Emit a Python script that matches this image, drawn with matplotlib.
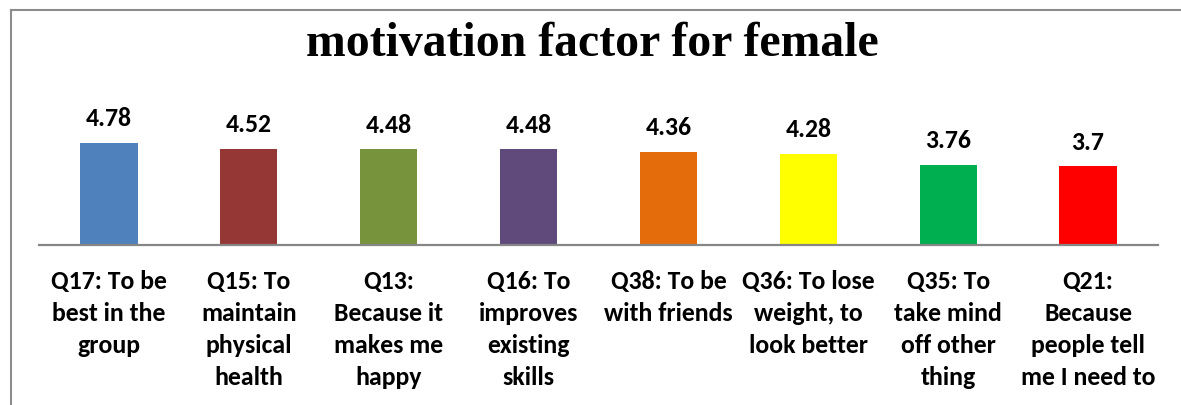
import matplotlib
matplotlib.use("Agg")
import matplotlib.pyplot as plt
from matplotlib.lines import Line2D

categories = [
    "Q17: To be\nbest in the\ngroup",
    "Q15: To\nmaintain\nphysical\nhealth",
    "Q13:\nBecause it\nmakes me\nhappy",
    "Q16: To\nimproves\nexisting\nskills",
    "Q38: To be\nwith friends",
    "Q36: To lose\nweight, to\nlook better",
    "Q35: To\ntake mind\noff other\nthing",
    "Q21:\nBecause\npeople tell\nme I need to",
]
values = [4.78, 4.52, 4.48, 4.48, 4.36, 4.28, 3.76, 3.7]
value_labels = ["4.78", "4.52", "4.48", "4.48", "4.36", "4.28", "3.76", "3.7"]
colors = ["#4F81BD", "#953735", "#77933C", "#604A7B", "#E46C0A", "#FFFF00", "#00B050", "#FF0000"]

W, H = 1181, 405
fig = plt.figure(figsize=(W / 100, H / 100), dpi=100)

# axes placement (pixels)
x0, x1 = 39, 1158
ybase, ytop = 245, 100
ax = fig.add_axes([x0 / W, (H - ybase) / H, (x1 - x0) / W, (ybase - ytop) / H])
px_per_unit = 21.34
ax.set_ylim(0, (ybase - ytop) / px_per_unit)
ax.set_xlim(-0.5, len(values) - 0.5)

xs = list(range(len(values)))
bars = ax.bar(xs, values, width=0.41, color=colors, zorder=2)
for x, v, lab in zip(xs, values, value_labels):
    ax.annotate(lab, (x, v), xytext=(0, 9), textcoords="offset points",
                ha="center", va="bottom", fontsize=18.5, fontweight="bold",
                family="Carlito", color="black")

for s in ["left", "right", "top"]:
    ax.spines[s].set_visible(False)
ax.spines["bottom"].set_color("#868686")
ax.spines["bottom"].set_linewidth(1.6)
ax.set_yticks([])
ax.set_xticks(xs)
ax.set_xticklabels(categories, fontsize=18.5, fontweight="bold", family="Carlito",
                   linespacing=1.47, va="top")
ax.tick_params(axis="x", length=0, pad=18)

fig.text(592 / W, 1 - 44 / H, "motivation factor for female", ha="center", va="center",
         fontsize=34.4, fontweight="bold", family="Liberation Serif")

# outer chart border (partially visible)
bx, by = 10.5 / W, 1 - 9.5 / H
fig.add_artist(Line2D([bx, bx], [0, by], transform=fig.transFigure, color="#8C8C8C", lw=1.5))
fig.add_artist(Line2D([bx, 1], [by, by], transform=fig.transFigure, color="#8C8C8C", lw=1.5))

fig.savefig("out.png", dpi=100, facecolor="white")
